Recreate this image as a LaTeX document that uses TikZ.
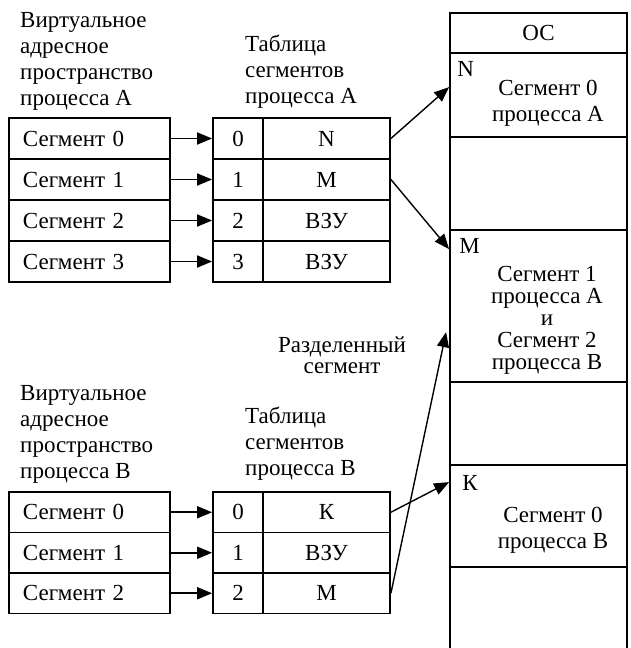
\documentclass[tikz,border=0pt]{standalone}
\usepackage{fontspec}
\setmainfont{Liberation Serif}
\usetikzlibrary{positioning,calc,arrows.meta}

\tikzset{
    cell/.style={draw, line width=1.8pt, inner sep=0pt, anchor=center},
    segcell/.style={cell, minimum width=161pt, text width=133pt, align=left},
    idxcell/.style={cell, minimum width=50pt},
    valcell/.style={cell, minimum width=127pt},
    memcell/.style={draw, line width=1.8pt, minimum width=177pt, inner sep=0pt},
    link/.style={-{Triangle[length=15pt,width=12pt]}, line width=1.8pt},
    slant/.style={-{Triangle[length=15pt,width=12pt]}, line width=1.4pt},
    caption/.style={anchor=north west, inner sep=0pt, align=left},
}

\begin{document}
\begin{tikzpicture}[x=1pt, y=-1pt, font=\fontsize{23}{26}\selectfont]
    \useasboundingbox (0,0) rectangle (630,648);

    % process A
    \node[caption] (tA) at (20,12) {Виртуальное\\адресное\\пространство\\процесса А};
    \node[caption] (sA) at (245,35) {Таблица\\сегментов\\процесса А};
    \foreach \i/\v in {0/N,1/M,2/ВЗУ,3/ВЗУ} {
        \node[segcell, minimum height=41pt] (a\i) at (89.5,{138.5+41*\i}) {Сегмент \i};
        \node[idxcell, minimum height=41pt] (ai\i) at (238,{138.5+41*\i}) {\i};
        \node[valcell, minimum height=41pt] (av\i) at (326.5,{138.5+41*\i}) {\v};
        \draw[link] (a\i.east) -- (ai\i.west);
    }

    % process B
    \node[caption] (tB) at (20,385) {Виртуальное\\адресное\\пространство\\процесса В};
    \node[caption] (sB) at (245,407) {Таблица\\сегментов\\процесса В};
    \foreach \i/\v in {0/К,1/ВЗУ,2/М} {
        \node[segcell, minimum height=40.5pt] (b\i) at (89.5,{512.25+40.5*\i}) {Сегмент \i};
        \node[idxcell, minimum height=40.5pt] (bi\i) at (238,{512.25+40.5*\i}) {\i};
        \node[valcell, minimum height=40.5pt] (bv\i) at (326.5,{512.25+40.5*\i}) {\v};
        \draw[link] (b\i.east) -- (bi\i.west);
    }

    % memory
    \node[memcell, minimum height=40pt] (m0) at (538.5,33) {ОС};
    \node[memcell, minimum height=84pt] (m1) at (538.5,95) {};
    \node[memcell, minimum height=93pt] (m2) at (538.5,183.5) {};
    \node[memcell, minimum height=152pt] (m3) at (538.5,306) {};
    \node[memcell, minimum height=83pt] (m4) at (538.5,423.5) {};
    \node[memcell, minimum height=102pt] (m5) at (538.5,516) {};
    \node[memcell, minimum height=103pt] (m6) at (538.5,618.5) {};

    \node[anchor=north west, inner sep=0pt] (lN) at ($(m1.north west)+(8,9)$) {N};
    \node[anchor=north west, inner sep=0pt] (lM) at ($(m3.north west)+(10,9)$) {М};
    \node[anchor=north west, inner sep=0pt] (lK) at ($(m5.north west)+(13,11)$) {К};
    \node[align=center] (s0A) at (548,103) {Сегмент 0\\процесса А};
    \node[align=center, font=\fontsize{23}{22}\selectfont] (shr) at (547,320) {Сегмент 1\\процесса А\\и\\Сегмент 2\\процесса В};
    \node[align=center] (s0B) at (553,530) {Сегмент 0\\процесса В};
    \node[align=center, font=\fontsize{23}{21}\selectfont] (shl) at (342,355) {Разделенный\\сегмент};

    \draw[slant] (av0.east) -- ($(m1.north west)+(0,35)$);
    \draw[slant] (av1.east) -- ($(m3.north west)+(0,20)$);
    \draw[slant] (bv0.east) -- ($(m5.north west)+(0,18)$);
    \draw[slant] (bv2.east) -- ($(m3.north west)+(-3,103)$);
\end{tikzpicture}
\end{document}
